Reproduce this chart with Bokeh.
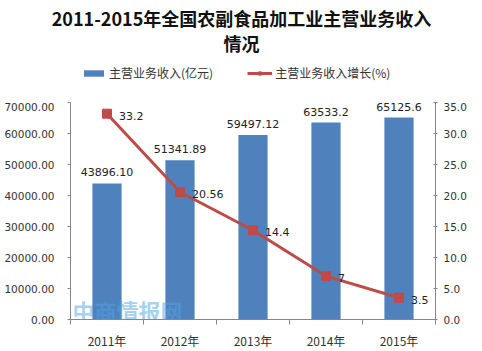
import numpy as np
from bokeh.plotting import figure
from bokeh.layouts import column
from bokeh.core.properties import value
from bokeh.models import (Range1d, LinearAxis, FixedTicker, Label, Legend, LegendItem,
                          ColumnDataSource, NumeralTickFormatter, LabelSet)
from bokeh.embed import file_html
from bokeh.resources import INLINE

years = ["2011年", "2012年", "2013年", "2014年", "2015年"]
revenue = [43896.10, 51341.89, 59497.12, 63533.2, 65125.6]
revenue_labels = ["43896.10", "51341.89", "59497.12", "63533.2", "65125.6"]
growth = [33.2, 20.56, 14.4, 7, 3.5]
growth_labels = ["33.2", "20.56", "14.4", "7", "3.5"]
left_ticks = [0, 10000, 20000, 30000, 40000, 50000, 60000, 70000]
right_ticks = [0, 5, 10, 15, 20, 25, 30, 35]

title_line1 = "2011-2015年全国农副食品加工业主营业务收入"
title_line2 = "情况"
legend_bar = "主营业务收入(亿元)"
legend_line = "主营业务收入增长(%)"

BLUE = "#4F81BD"
RED = "#BE4B48"
AXIS = "#868686"
TXT = "#333333"
NUM_FONT = "DejaVu Sans"
CJK = "Noto Sans CJK SC"

W, H_TOP, H_MAIN = 482, 102, 249

n = len(years)
xc = list(np.arange(n) + 0.5)
src = ColumnDataSource(dict(x=xc, rev=revenue, rev_lab=revenue_labels,
                            g=growth, g_lab=growth_labels))

# ---------------- header figure (title + legend) ----------------
top = figure(width=W, height=H_TOP, output_backend="svg", toolbar_location=None,
             x_range=Range1d(0, W), y_range=Range1d(H_TOP, 0),
             min_border=0, x_axis_location=None, y_axis_location=None)
top.frame_align = False
top.outline_line_color = None
top.xgrid.visible = False
top.ygrid.visible = False
top.background_fill_color = "white"
top.border_fill_color = "white"

for t, yy in [(title_line1, 17), (title_line2, 42)]:
    top.add_layout(Label(x=W / 2, y=yy, text=t, text_align="center", text_baseline="middle",
                         text_font=CJK, text_font_style="bold", text_font_size="18px",
                         text_color="#111111"))

# legend proxies (hidden renderers carrying the series styles)
proxy_bar = top.vbar(x="x", top="rev", width=0.4, source=src, fill_color=BLUE,
                     line_color=None, visible=False)
proxy_line = top.line(x="x", y="g", source=src, line_color=RED, line_width=3, visible=False)
proxy_pts = top.scatter(x="x", y="g", source=src, marker="square", size=9,
                        fill_color=RED, line_color=RED, visible=False)

legend = Legend(items=[LegendItem(label=legend_bar, renderers=[proxy_bar]),
                       LegendItem(label=legend_line, renderers=[proxy_line, proxy_pts])],
                orientation="horizontal", location=(81, 21))
legend.glyph_width = 25
legend.glyph_height = 8
legend.label_standoff = 3
legend.spacing = 34
legend.padding = 0
legend.margin = 0
legend.border_line_color = None
legend.background_fill_alpha = 0
legend.inactive_fill_alpha = 0
legend.label_text_font = CJK
legend.label_text_font_size = "12px"
legend.label_text_color = TXT
legend.label_height = 14
top.add_layout(legend, "center")

# ---------------- main chart ----------------
p = figure(width=W, height=H_MAIN, output_backend="svg", toolbar_location=None,
           x_range=Range1d(0, n), y_range=Range1d(0, 70000),
           min_border_left=70, min_border_right=47, min_border_top=0,
           min_border_bottom=26, y_axis_location=None, x_axis_location=None)
p.frame_align = False
p.outline_line_color = None
p.xgrid.visible = False
p.ygrid.visible = False
p.background_fill_color = "white"
p.border_fill_color = "white"
p.extra_y_ranges = {"pct": Range1d(0, 35)}

ly = LinearAxis(ticker=FixedTicker(ticks=left_ticks, minor_ticks=[]),
                formatter=NumeralTickFormatter(format="0.00"))
ly.axis_line_color = AXIS
ly.major_tick_line_color = AXIS
ly.major_tick_out = 3
ly.major_tick_in = 0
ly.minor_tick_line_color = None
ly.major_label_standoff = 13
ly.major_label_text_font = NUM_FONT
ly.major_label_text_font_size = "10.5px"
ly.major_label_text_color = TXT
p.add_layout(ly, "left")

ry = LinearAxis(y_range_name="pct", ticker=FixedTicker(ticks=right_ticks, minor_ticks=[]),
                formatter=NumeralTickFormatter(format="0.0"))
ry.axis_line_color = AXIS
ry.major_tick_line_color = AXIS
ry.major_tick_out = 2
ry.major_tick_in = 2
ry.minor_tick_line_color = None
ry.major_label_standoff = 6
ry.major_label_text_font = NUM_FONT
ry.major_label_text_font_size = "10.5px"
ry.major_label_text_color = TXT
p.add_layout(ry, "right")

bx = LinearAxis(ticker=FixedTicker(ticks=xc, minor_ticks=list(range(n + 1))))
bx.major_label_overrides = {float(v): y for v, y in zip(xc, years)}
bx.axis_line_color = AXIS
bx.major_tick_line_color = None
bx.major_tick_out = 0
bx.major_tick_in = 0
bx.minor_tick_line_color = AXIS
bx.minor_tick_out = 5
bx.minor_tick_in = 0
bx.major_label_standoff = 7
bx.major_label_text_font = CJK
bx.major_label_text_font_size = "12px"
bx.major_label_text_color = TXT
p.add_layout(bx, "below")

p.vbar(x="x", top="rev", width=0.4, source=src, fill_color=BLUE, line_color=None)
p.line(x="x", y="g", source=src, y_range_name="pct", line_color=RED, line_width=3)
p.scatter(x="x", y="g", source=src, y_range_name="pct", marker="square", size=9,
          fill_color=RED, line_color=RED)

# watermark
p.add_layout(Label(x=2, y=10, x_units="screen", y_units="screen", text="中商情报网",
                   text_font=CJK, text_font_style="bold", text_font_size="22px",
                   text_color="#4FA3E3", text_alpha=0.5, text_baseline="middle"))
p.add_layout(Label(x=8, y=-8, x_units="screen", y_units="screen", text="www.askci.com",
                   text_font=NUM_FONT, text_font_style="italic", text_font_size="10px",
                   text_color="#9aa4ad", text_alpha=0.45, text_baseline="middle"))

p.add_layout(LabelSet(x="x", y="rev", text="rev_lab", source=src, text_align="center",
                      text_baseline="bottom", y_offset=7, text_font=value(NUM_FONT),
                      text_font_size="11px", text_color="#222222"))
p.add_layout(LabelSet(x="x", y="g", text="g_lab", source=src, y_range_name="pct",
                      text_align="left", text_baseline="middle", x_offset=12, y_offset=-2,
                      text_font=value(NUM_FONT), text_font_size="11px", text_color="#222222"))

layout = column(top, p, spacing=0)
open("out.html", "w").write(file_html(layout, INLINE))
